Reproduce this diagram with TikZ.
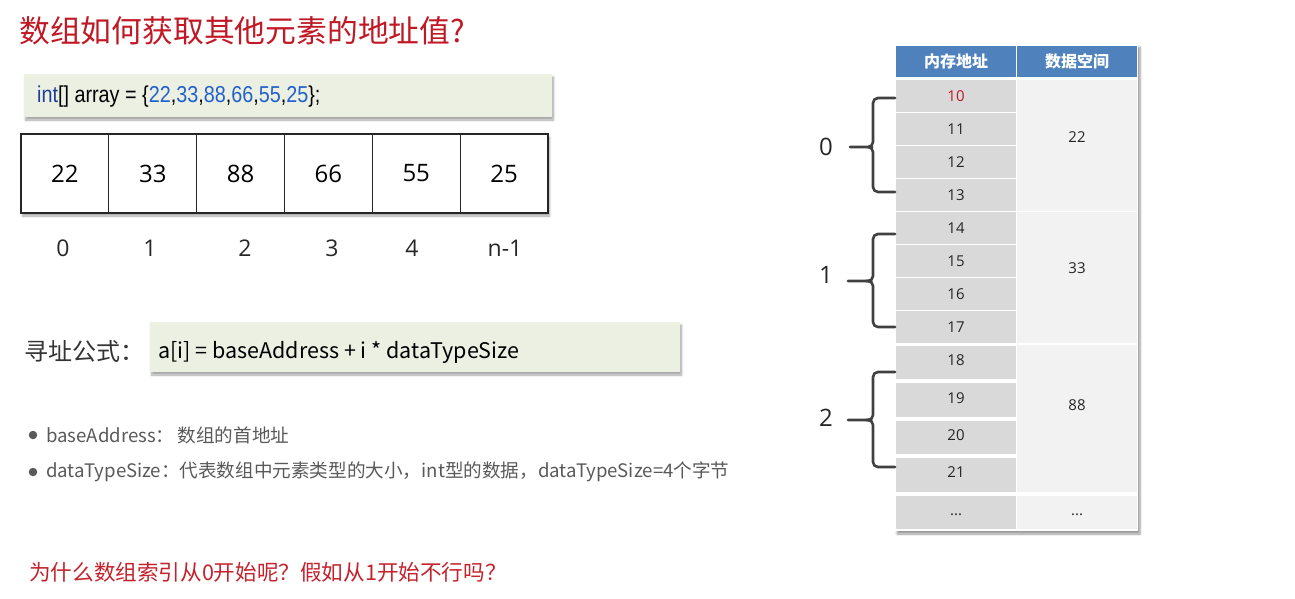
\documentclass[tikz,border=0pt]{standalone}
\usepackage{fontspec}
\setmainfont{Noto Sans CJK SC}
\newfontfamily\codefont[FakeStretch=0.86]{Liberation Sans}
\newfontfamily\numfont{Open Sans}
\usetikzlibrary{calc,shadows.blur}

\definecolor{titlered}{RGB}{192,24,36}
\definecolor{askred}{RGB}{196,34,44}
\definecolor{codebg}{RGB}{235,240,227}
\definecolor{kwblue}{RGB}{32,62,150}
\definecolor{numblue}{RGB}{34,96,204}
\definecolor{headblue}{RGB}{79,129,189}
\definecolor{addrgray}{RGB}{217,217,217}
\definecolor{datagray}{RGB}{242,242,242}
\definecolor{notegray}{RGB}{89,89,89}
\definecolor{bracegray}{RGB}{64,64,64}

\tikzset{
  boxshadow/.style={blur shadow={shadow xshift=1.5pt, shadow yshift=-3pt, shadow blur steps=6, shadow opacity=35}},
  codebox/.style={fill=codebg, inner sep=0, boxshadow},
  arrcell/.style={draw=black!85, line width=1.1pt, minimum width=87.8pt, minimum height=79pt,
                  inner sep=0, font=\numfont\fontsize{24}{24}\selectfont},
  idx/.style={font=\numfont\fontsize{23}{23}\selectfont, text=black!85},
  headcell/.style={fill=headblue, draw=white, line width=1.5pt, minimum width=121pt, minimum height=33pt,
                   inner sep=0, text=white, font=\fontsize{16}{16}\selectfont\bfseries},
  addrcell/.style={fill=addrgray, draw=white, line width=1.5pt, minimum width=121pt, inner sep=0},
  datacell/.style={fill=datagray, draw=white, line width=1.5pt, minimum width=121pt, inner sep=0},
  celltext/.style={font=\numfont\fontsize{15}{15}\selectfont, text=black!85},
  brace/.style={draw=bracegray, line width=2.6pt, rounded corners=5pt, line cap=round},
  bracelabel/.style={font=\numfont\fontsize{24}{24}\selectfont, text=black!85},
  note/.style={anchor=west, inner sep=0, text=notegray, font=\fontsize{18.6}{18.6}\selectfont},
  dot/.style={circle, fill=notegray, minimum size=8.5pt, inner sep=0},
}

\begin{document}
\begin{tikzpicture}[x=1pt, y=-1pt]
\useasboundingbox (0,0) rectangle (1295,599);

% heading
\node[anchor=west, inner sep=0, text=titlered, font=\fontsize{30.8}{30.8}\selectfont] (title) at (19,31)
  {数组如何获取其他元素的地址值?};

% declaration of the array
\node[codebox, minimum width=528pt, minimum height=43pt] (decl) at (288,95.5) {};
\node[anchor=west, inner sep=0, font=\codefont\fontsize{23}{23}\selectfont] (declText) at (37,97)
  {{\color{kwblue}int}[] array = \{{\color{numblue}22},{\color{numblue}33},{\color{numblue}88},{\color{numblue}66},{\color{numblue}55},{\color{numblue}25}\};};

% array cells
\node[fill=white, minimum width=527pt, minimum height=79pt, inner sep=0, boxshadow] (arrbg) at (284.5,173.5) {};
\foreach \v [count=\i from 0] in {22,33,88,66,55,25} {
  \node[arrcell] (c\i) at ({21+87.83*(\i+0.5)},173.5) {\v};
}
% indices
\node[idx] (i0) at (63,248) {0};
\node[idx] (i1) at (150,248) {1};
\node[idx] (i2) at (245,248) {2};
\node[idx] (i3) at (332,248) {3};
\node[idx] (i4) at (412,248) {4};
\node[idx] (i5) at (505,248) {n-1};

% addressing formula
\node[anchor=west, inner sep=0, font=\fontsize{24}{24}\selectfont, text=black!80] (fLabel) at (24,351) {寻址公式：};
\node[codebox, minimum width=530pt, minimum height=50pt] (fBox) at (415,347) {};
\node[anchor=west, inner sep=0, font=\fontsize{21.5}{21.5}\selectfont] (fText) at (158,352)
  {a[i] = baseAddress + i * dataTypeSize};

% notes
\node[dot] (d1) at (33,435) {};
\node[note] (n1) at (46,435) {baseAddress：\,数组的首地址};
\node[dot] (d2) at (33,472) {};
\node[note] (n2) at (46,472) {dataTypeSize：代表数组中元素类型的大小，int型的数据，dataTypeSize=4个字节};

% closing question
\node[anchor=west, inner sep=0, text=askred, font=\fontsize{21.6}{21.6}\selectfont] (ask) at (29,572)
  {为什么数组索引从0开始呢？假如从1开始不行吗？};

% memory table
\node[fill=white, minimum width=243pt, minimum height=487pt, inner sep=0,
      blur shadow={shadow xshift=2pt, shadow yshift=-3pt, shadow blur steps=6, shadow opacity=40}] (tbg) at (1016.5,287.5) {};
\node[headcell] (h1) at (956,61.5) {内存地址};
\node[headcell] (h2) at (1077,61.5) {数据空间};

\foreach \a/\y/\h in {10/96/33, 11/129/33, 12/162/33, 13/195/33, 14/228/33, 15/261/33, 16/294/33, 17/327/33,
                     18/362.5/35, 19/400/36, 20/437.5/35, 21/475/36} {
  \node[addrcell, minimum height=\h pt] (a\a) at (956,\y) {};
}
\node[addrcell, minimum height=35pt] (aMore) at (956,512.5) {};

\node[datacell, minimum height=132pt] (v0) at (1077,145.5) {};
\node[datacell, minimum height=132pt] (v1) at (1077,277.5) {};
\node[datacell, minimum height=148pt] (v2) at (1077,418.5) {};
\node[datacell, minimum height=35pt] (vMore) at (1077,512.5) {};

\node[celltext, text=titlered] (t10) at (956,96) {10};
\foreach \a/\y in {11/129, 12/162, 13/195, 14/228, 15/261, 16/294, 17/327, 18/360, 19/398, 20/435, 21/472} {
  \node[celltext] (t\a) at (956,\y) {\a};
}
\node[celltext] (tMore) at (956,515) {...};
\node[celltext] (x0) at (1077,137) {22};
\node[celltext] (x1) at (1077,268) {33};
\node[celltext] (x2) at (1077,405) {88};
\node[celltext] (xMore) at (1077,515) {...};

% braces grouping four addresses per element
\coordinate (b0t) at (895,98);   \coordinate (b0b) at (895,192);  \coordinate (b0m) at (850,147);
\coordinate (b1t) at (895,234);  \coordinate (b1b) at (895,327);  \coordinate (b1m) at (848,281);
\coordinate (b2t) at (895,372);  \coordinate (b2b) at (895,467);  \coordinate (b2m) at (848,420);
\foreach \k in {0,1,2} {
  \draw[brace] (b\k t) -- ++(-22,0) |- ($(b\k m)+(18,0)$) -- (b\k m);
  \draw[brace] (b\k b) -- ++(-22,0) |- ($(b\k m)+(18,0)$);
}
\node[bracelabel] (g0) at (826,147) {0};
\node[bracelabel] (g1) at (826,275) {1};
\node[bracelabel] (g2) at (826,418) {2};
\end{tikzpicture}
\end{document}
